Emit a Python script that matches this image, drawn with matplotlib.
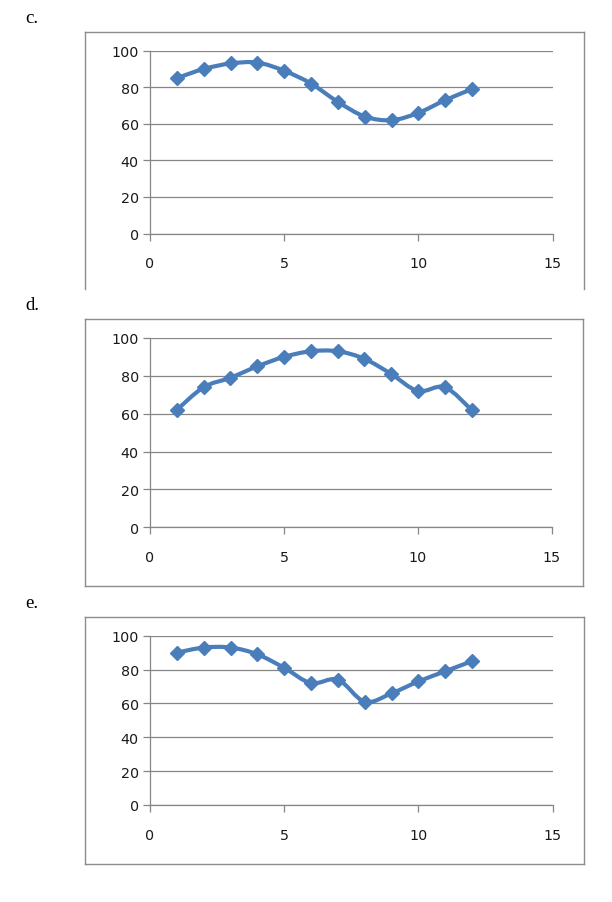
import matplotlib
matplotlib.use("Agg")
import matplotlib.pyplot as plt
from matplotlib.path import Path
from matplotlib.patches import PathPatch
from matplotlib.lines import Line2D
import numpy as np

# ---- data ----
x_vals = [1, 2, 3, 4, 5, 6, 7, 8, 9, 10, 11, 12]
series_c = [85, 90, 93, 93.5, 89, 82, 72, 64, 62, 66, 73, 79]
series_d = [62, 74, 79, 85, 90, 93, 93, 89, 81, 72, 74, 62]
series_e = [90, 93, 93, 89, 81, 72, 74, 61, 66, 73, 79, 85]
panel_labels = ["c.", "d.", "e."]
x_ticks = [0, 5, 10, 15]
y_ticks = [0, 20, 40, 60, 80, 100]

W, H = 612, 903
fig = plt.figure(figsize=(W / 100, H / 100), dpi=100)
fig.patch.set_facecolor("white")

LINE_COLOR = "#4A7EBB"
GRID_COLOR = "#868686"
BOX_COLOR = "#8C8C8C"


def fx(px):
    return px / W


def fy(py):
    return 1 - py / H


def smooth_path(xs, ys):
    pts = np.column_stack([xs, ys]).astype(float)
    n = len(pts)
    verts = [pts[0]]
    codes = [Path.MOVETO]
    t = 1.0 / 6.0
    for i in range(n - 1):
        p0 = pts[i - 1] if i > 0 else pts[i]
        p1 = pts[i]
        p2 = pts[i + 1]
        p3 = pts[i + 2] if i + 2 < n else pts[i + 1]
        c1 = p1 + (p2 - p0) * t
        c2 = p2 - (p3 - p1) * t
        verts += [c1, c2, p2]
        codes += [Path.CURVE4] * 3
    return Path(verts, codes)


panels = [
    (series_c, (150, 552.7, 51.7, 234.5), (85, 584, 33, 290), 23, True),
    (series_d, (150, 552.0, 339.0, 528.3), (85, 583, 320, 587), 310, False),
    (series_e, (150, 552.7, 636.7, 806.0), (85, 584, 618, 865), 608, False),
]

for (data, ab, fb, lab_y, open_bottom), lab in zip(panels, panel_labels):
    l, r, t, b = ab
    ax = fig.add_axes([fx(l), fy(b), fx(r) - fx(l), fy(t) - fy(b)])
    ax.set_xlim(0, 15)
    ax.set_ylim(0, 100)
    ax.set_xticks(x_ticks)
    ax.set_yticks(y_ticks)
    ax.set_facecolor("none")
    for s in ("top", "right"):
        ax.spines[s].set_visible(False)
    for s in ("left", "bottom"):
        ax.spines[s].set_color(GRID_COLOR)
        ax.spines[s].set_linewidth(0.9)
    ax.grid(axis="y", color=GRID_COLOR, linewidth=0.9)
    ax.set_axisbelow(True)
    ax.tick_params(axis="both", direction="out", length=5, width=0.9,
                   color=GRID_COLOR, labelcolor="#1a1a1a", labelsize=10.3)
    ax.tick_params(axis="x", pad=11.5)
    ax.tick_params(axis="y", pad=3)

    path = smooth_path(x_vals, data)
    ax.add_patch(PathPatch(path, facecolor="none", edgecolor=LINE_COLOR,
                           linewidth=3.0, zorder=3, capstyle="round",
                           joinstyle="round"))
    ax.plot(x_vals, data, linestyle="none", marker="D", markersize=7,
            color=LINE_COLOR, zorder=4)

    x0, x1, y0, y1 = fb
    segs = [((x0, y0), (x1, y0)), ((x0, y0), (x0, y1)), ((x1, y0), (x1, y1))]
    if not open_bottom:
        segs.append(((x0, y1), (x1, y1)))
    for (a, bb) in segs:
        fig.add_artist(Line2D([fx(a[0]), fx(bb[0])], [fy(a[1]), fy(bb[1])],
                              transform=fig.transFigure, color=BOX_COLOR,
                              linewidth=1.0))

    fig.text(fx(25), fy(lab_y), lab, family="Liberation Serif", fontsize=13.5,
             ha="left", va="baseline", color="black")

fig.savefig("out.png", dpi=100, facecolor="white")
